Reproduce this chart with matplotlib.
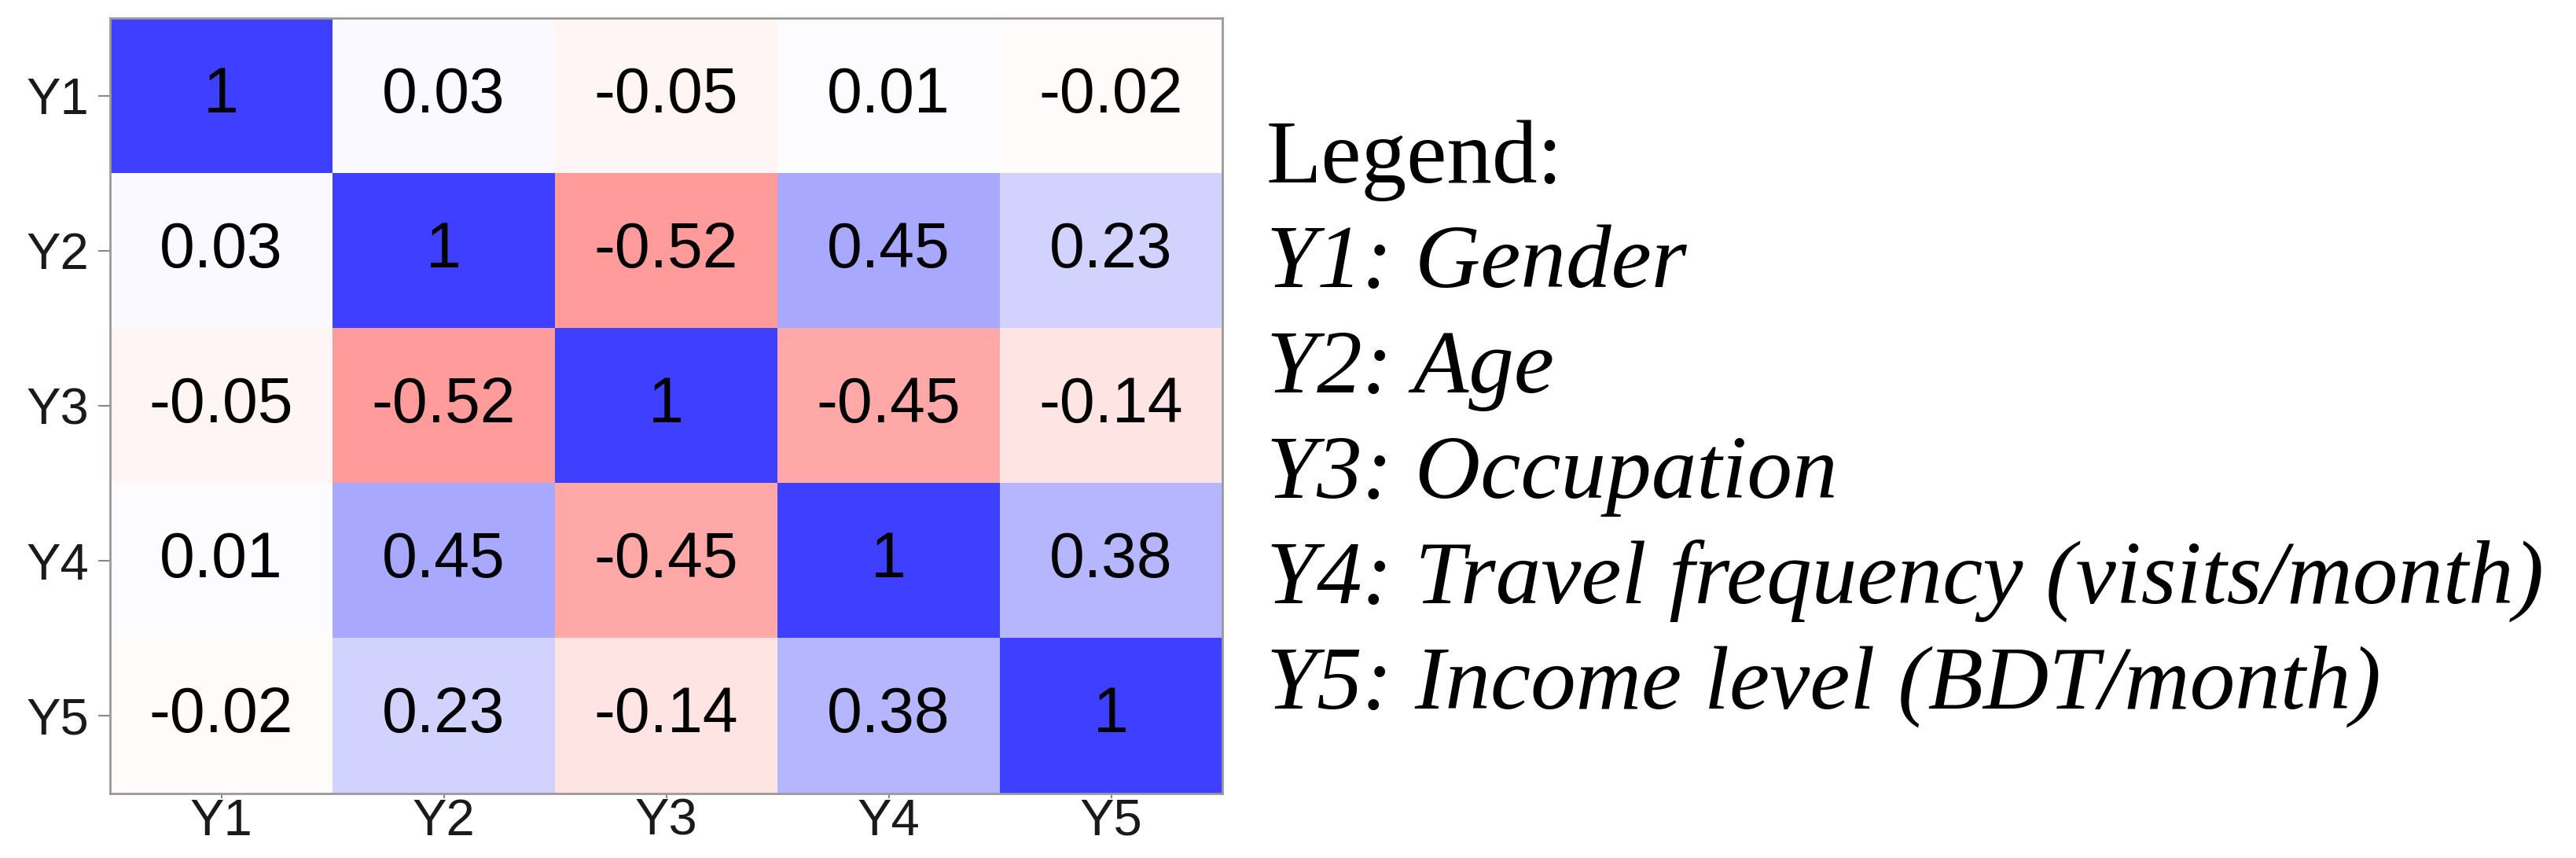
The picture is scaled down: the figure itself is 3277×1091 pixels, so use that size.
import numpy as np
import matplotlib
matplotlib.use("Agg")
import matplotlib.pyplot as plt
from matplotlib.colors import LinearSegmentedColormap

# correlation matrix values
labels = ["Y1", "Y2", "Y3", "Y4", "Y5"]
corr = [
    [1.00, 0.03, -0.05, 0.01, -0.02],
    [0.03, 1.00, -0.52, 0.45, 0.23],
    [-0.05, -0.52, 1.00, -0.45, -0.14],
    [0.01, 0.45, -0.45, 1.00, 0.38],
    [-0.02, 0.23, -0.14, 0.38, 1.00],
]
legend_title = "Legend:"
legend_items = [
    "Y1: Gender",
    "Y2: Age",
    "Y3: Occupation",
    "Y4: Travel frequency (visits/month)",
    "Y5: Income level (BDT/month)",
]


def fmt(v):
    if v == 1:
        return "1"
    return "%.2f" % v


W, H = 3277, 1091
fig = plt.figure(figsize=(W / 100, H / 100), dpi=100)
ax = fig.add_axes([140 / W, 1 - 1009 / H, (1555 - 140) / W, (1009 - 23) / H])

cmap = LinearSegmentedColormap.from_list(
    "rwb", [(1.0, 0.25, 0.25), (1.0, 1.0, 1.0), (0.25, 0.25, 1.0)])
data = np.array(corr)
ax.imshow(data, cmap=cmap, vmin=-1, vmax=1, aspect="auto",
          interpolation="nearest")

for i in range(len(labels)):
    for j in range(len(labels)):
        ax.text(j, i, fmt(data[i, j]), ha="center", va="center",
                fontsize=58, family="Liberation Sans", color="black")

ax.set_xticks(range(len(labels)))
ax.set_yticks(range(len(labels)))
ax.set_xticklabels(labels, family="Liberation Sans", fontsize=47)
ax.set_yticklabels(labels, family="Liberation Sans", fontsize=47)
ax.tick_params(axis="y", length=11, width=1.5, color="#888888", pad=8,
               labelcolor="#1a1a1a")
ax.tick_params(axis="x", length=4, width=1.5, color="#888888", pad=0,
               labelcolor="#1a1a1a")
for sp in ax.spines.values():
    sp.set_color("#999999")
    sp.set_linewidth(2)

# legend text on the right
fig.text(1611 / W, 1 - 232 / H, legend_title, family="Liberation Serif",
         fontsize=83, va="baseline", ha="left")
base = 365
for k, item in enumerate(legend_items):
    fig.text(1611 / W, 1 - (base + k * 134) / H, item,
             family="Liberation Serif", style="italic",
             fontsize=83, va="baseline", ha="left")

fig.savefig("out.png", dpi=100)
